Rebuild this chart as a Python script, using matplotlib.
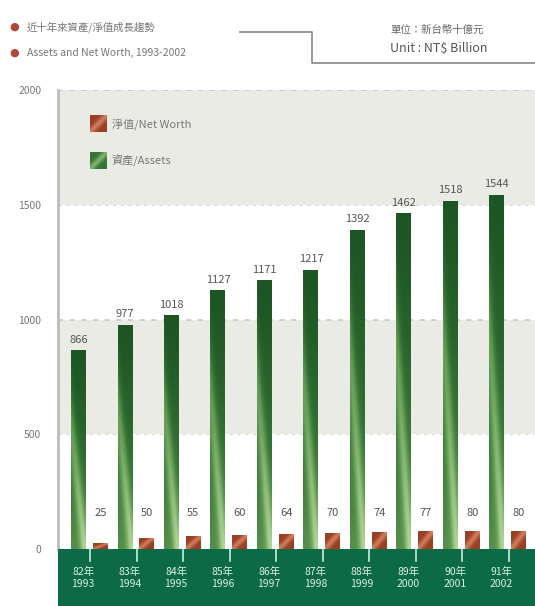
import numpy as np
import matplotlib
matplotlib.use("Agg")
import matplotlib.pyplot as plt
from matplotlib.colors import LinearSegmentedColormap

plt.rcParams['font.family'] = ['Noto Sans CJK TC', 'DejaVu Sans']

roc_years = ["82年", "83年", "84年", "85年", "86年", "87年", "88年", "89年", "90年", "91年"]
years = ["1993", "1994", "1995", "1996", "1997", "1998", "1999", "2000", "2001", "2002"]
assets = [866, 977, 1018, 1127, 1171, 1217, 1392, 1462, 1518, 1544]
net_worth = [25, 50, 55, 60, 64, 70, 74, 77, 80, 80]
yticks = [0, 500, 1000, 1500, 2000]

green_cm = LinearSegmentedColormap.from_list("g", ["#1d5524", "#3a7838", "#6ea55e", "#bfe0a4"])
brown_cm = LinearSegmentedColormap.from_list("b", ["#7a2e18", "#9c4226", "#c87050", "#e8b090"])


def bar_image(n=60):
    u = np.linspace(0, 1, 12)[None, :]
    v = np.linspace(0, 1, n)[:, None]   # 0 bottom, 1 top
    base = 0.5 * (1 - v) ** 1.3
    centre = 0.95 - 1.6 * v
    streak = 0.45 * np.exp(-((u - centre) ** 2) / 0.12)
    return np.clip(base + streak, 0, 1)


def brown_image():
    u = np.linspace(0, 1, 12)[None, :]
    v = np.linspace(0, 1, 12)[:, None]
    return np.clip(0.3 + 0.45 * np.exp(-((u - v) ** 2) / 0.08), 0, 1)


def gradient_bars(ax, xs, heights, width, cmap, img_fn):
    bars = ax.bar(xs, heights, width, color="none", edgecolor="none", zorder=3)
    for b in bars:
        x0, y0 = b.get_x(), b.get_y()
        w, h = b.get_width(), b.get_height()
        im = ax.imshow(img_fn(), cmap=cmap, vmin=0, vmax=1, origin="lower",
                       extent=[x0, x0 + w, y0, y0 + h], aspect="auto",
                       interpolation="bicubic", zorder=3)
        im.set_clip_path(b)
    return bars


fig = plt.figure(figsize=(5.35, 6.06), dpi=100)
fig.patch.set_facecolor("white")
ax = fig.add_axes([58 / 535, 0, 1 - 58 / 535, 1 - 90 / 606])

x = np.arange(len(years))
off_a, off_n, bw = -0.25, 0.22, 0.32

# background bands
ax.axhspan(1500, 2000, facecolor="#ebebe6", zorder=0)
ax.axhspan(500, 1000, facecolor="#ebebe6", zorder=0)
for yy in [2000, 1000]:
    ax.axhline(yy, color="#c8c8c4", lw=1.2, ls=(0, (3, 4)), zorder=1)
for yy in [1500, 500]:
    ax.axhline(yy, color="#dcdcd8", lw=0.8, ls=(0, (3, 4)), zorder=1)

gradient_bars(ax, x + off_a, assets, bw, green_cm, bar_image)
gradient_bars(ax, x + off_n, net_worth, bw, brown_cm, brown_image)

for i in range(len(years)):
    ax.text(x[i] + off_a, assets[i] + 25, str(assets[i]), ha="center", va="bottom",
            fontsize=8, color="#555555", zorder=4)
    ax.text(x[i] + off_n, 157, str(net_worth[i]), ha="center", va="center",
            fontsize=8, color="#555555", zorder=4)

# green bottom band
ax.axhspan(-260, 0, facecolor="#0d6a46", zorder=5)
for i in range(len(years)):
    ax.plot([x[i], x[i]], [0, -50], color="#c8eede", lw=1.2, zorder=6)
    ax.text(x[i] - 0.15, -125, roc_years[i] + "\n" + years[i], ha="center", va="center",
            fontsize=7.5, color="#d8f0e4", linespacing=1.2, zorder=6)

ax.set_xlim(-0.69, 9.57)
ax.set_ylim(-248, 2000)
ax.set_xticks([])
ax.set_yticks(yticks)
ax.set_yticklabels([str(t) for t in yticks], fontsize=7.5, color="#777777")
ax.tick_params(axis="y", length=0, pad=12)
for s in ["top", "right", "bottom"]:
    ax.spines[s].set_visible(False)
ax.spines["left"].set_bounds(0, 2000)
ax.spines["left"].set_color("#bbbbbb")
ax.spines["left"].set_linewidth(2)

# legend
lx = 0.35
for label, cmap, yy in [("淨值/Net Worth", brown_cm, 1850),
                        ("資產/Assets", green_cm, 1690)]:
    ax.imshow(brown_image(), cmap=cmap, vmin=0, vmax=1, origin="lower",
              extent=[lx - 0.35, lx, yy - 35, yy + 35], aspect="auto", zorder=4)
    ax.text(lx + 0.12, yy, label, va="center", ha="left", fontsize=8, color="#777777", zorder=4)

# header
for yy, txt in [(27, "近十年來資產/淨值成長趨勢"), (53, "Assets and Net Worth, 1993-2002")]:
    fig.text(14 / 535, 1 - yy / 606, "●", ha="center", va="center", fontsize=8,
             color="#b0473a", family=["DejaVu Sans"])
    fig.text(27 / 535, 1 - yy / 606, txt, ha="left", va="center", fontsize=7.5, color="#777777")
fig.add_artist(plt.Line2D(np.array([240, 312, 312, 535]) / 535,
                          1 - np.array([32, 32, 63, 63]) / 606, color="#888888", lw=1.2))
fig.text(390 / 535, 1 - 30 / 606, "單位：新台幣十億元", ha="left", va="center", fontsize=7.5, color="#666666")
fig.text(390 / 535, 1 - 48 / 606, "Unit : NT$ Billion", ha="left", va="center", fontsize=9, color="#555555")

fig.savefig("out.png", dpi=100)
